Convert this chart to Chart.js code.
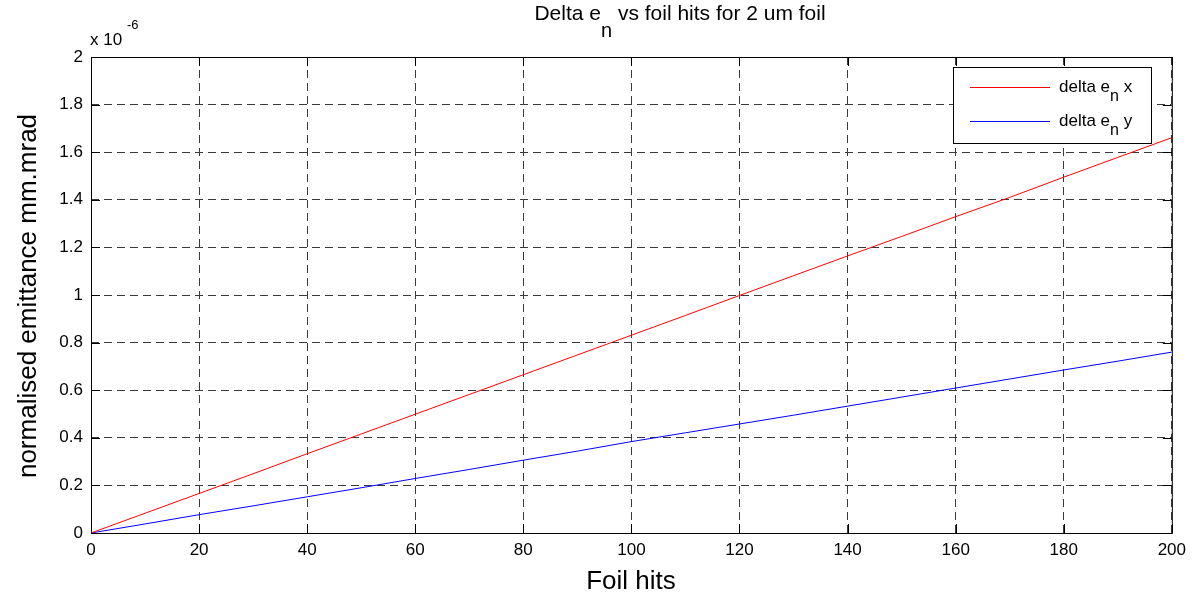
<!DOCTYPE html>
<html>
<head>
<meta charset="utf-8">
<script src="https://cdn.jsdelivr.net/npm/chart.js@4/dist/chart.umd.min.js"></script>
<style>
  html, body { margin: 0; padding: 0; background: #fff; }
  #wrap { width: 1193px; height: 593px; }
</style>
</head>
<body>
<div id="wrap"><canvas id="c" width="1193" height="593"></canvas></div>
<script>
// foil hits and emittance growth (units of 1e-6 mm.mrad)
const hits = [0, 10, 20, 30, 40, 50, 60, 70, 80, 90, 100, 110, 120, 130, 140, 150, 160, 170, 180, 190, 200];
const deltaX = [0, 0.083, 0.166, 0.249, 0.333, 0.416, 0.499, 0.582, 0.665, 0.748, 0.831, 0.914, 0.998, 1.081, 1.164, 1.246, 1.329, 1.41, 1.495, 1.578, 1.661];
const deltaY = [0, 0.038, 0.077, 0.114, 0.152, 0.19, 0.229, 0.267, 0.306, 0.344, 0.384, 0.421, 0.458, 0.495, 0.533, 0.571, 0.609, 0.647, 0.685, 0.722, 0.76];
const xTicks = [0, 20, 40, 60, 80, 100, 120, 140, 160, 180, 200];
const yTicks = [0, 0.2, 0.4, 0.6, 0.8, 1, 1.2, 1.4, 1.6, 1.8, 2];
const seriesColors = ['#ff0000', '#0000ff'];

const FONT = '"Liberation Sans", Arial, sans-serif';

const pts = ys => hits.map((h, i) => ({x: h, y: ys[i]}));

// text with subscript pieces: parts = [[text, isSub], ...]
function drawRich(ctx, parts, x, y, size, subSize, drop, align) {
  let w = 0;
  parts.forEach(([t, sub]) => {
    ctx.font = (sub ? subSize : size) + 'px ' + FONT;
    w += ctx.measureText(t).width;
  });
  let cx = align === 'center' ? x - w / 2 : x;
  ctx.textAlign = 'left';
  ctx.textBaseline = 'alphabetic';
  parts.forEach(([t, sub]) => {
    ctx.font = (sub ? subSize : size) + 'px ' + FONT;
    ctx.fillText(t, cx, sub ? y + drop : y);
    cx += ctx.measureText(t).width;
  });
}

const decor = {
  id: 'decor',
  afterDatasetsDraw(chart) {
    const {ctx, chartArea: a, scales} = chart;
    ctx.save();
    ctx.fillStyle = '#000';
    ctx.strokeStyle = '#000';
    ctx.lineWidth = 1;
    ctx.setLineDash([]);
    ctx.strokeRect(a.left + 0.5, a.top + 0.5, a.right - a.left, a.bottom - a.top);

    // inward tick marks on all four sides
    ctx.beginPath();
    xTicks.forEach(v => {
      const px = Math.round(scales.x.getPixelForValue(v)) + 0.5;
      ctx.moveTo(px, a.bottom); ctx.lineTo(px, a.bottom - 9);
      ctx.moveTo(px, a.top); ctx.lineTo(px, a.top + 9);
    });
    yTicks.forEach(v => {
      const py = Math.round(scales.y.getPixelForValue(v)) + 0.5;
      ctx.moveTo(a.left, py); ctx.lineTo(a.left + 9, py);
      ctx.moveTo(a.right, py); ctx.lineTo(a.right - 9, py);
    });
    ctx.stroke();

    // title
    drawRich(ctx, [['Delta e', false], ['n', true], [' vs foil hits for 2 um foil', false]], 680, 20, 21, 20, 17, 'center');

    // exponent
    ctx.font = '17px ' + FONT;
    ctx.textAlign = 'left';
    ctx.fillText('x 10', 90, 45);
    ctx.font = '13px ' + FONT;
    ctx.fillText('-6', 127, 29);

    // axis titles
    ctx.font = '26px ' + FONT;
    ctx.textAlign = 'center';
    ctx.fillText('Foil hits', 631, 589);
    ctx.save();
    ctx.translate(36, 296);
    ctx.rotate(-Math.PI / 2);
    ctx.fillText('normalised emittance mm.mrad', 0, 0);
    ctx.restore();

    // legend
    const lx = 953, ly = 67, lw = 198, lh = 76;
    ctx.fillStyle = '#fff';
    ctx.fillRect(lx, ly, lw, lh);
    ctx.strokeStyle = '#000';
    ctx.strokeRect(lx + 0.5, ly + 0.5, lw, lh);
    const rows = [['x', 87], ['y', 121]];
    rows.forEach(([s, yy], i) => {
      ctx.beginPath();
      ctx.moveTo(970, yy + 0.5);
      ctx.lineTo(1050, yy + 0.5);
      ctx.strokeStyle = seriesColors[i];
      ctx.lineWidth = 1;
      ctx.stroke();
      ctx.fillStyle = '#000';
      drawRich(ctx, [['delta e', false], ['n', true], [' ' + s, false]], 1059, yy + 5, 17, 16, 9, 'left');
    });
    ctx.restore();
  }
};

new Chart(document.getElementById('c'), {
  type: 'line',
  data: {
    datasets: [
      {label: 'delta en x', data: pts(deltaX), borderColor: seriesColors[0], borderWidth: 1, pointRadius: 0, tension: 0},
      {label: 'delta en y', data: pts(deltaY), borderColor: seriesColors[1], borderWidth: 1, pointRadius: 0, tension: 0}
    ]
  },
  options: {
    responsive: false,
    animation: false,
    layout: {padding: {top: 57, right: 18, left: 0, bottom: 0}},
    plugins: {legend: {display: false}, title: {display: false}, tooltip: {enabled: false}},
    scales: {
      x: {
        type: 'linear', min: 0, max: 200,
        afterBuildTicks: s => { s.ticks = xTicks.map(v => ({value: v})); },
        afterFit: s => { s.height = 60; },
        grid: {color: '#3a3a3a', lineWidth: 1, drawTicks: false},
        border: {display: false, dash: [8, 5]},
        ticks: {color: '#000', font: {family: FONT, size: 17}, padding: 7, maxRotation: 0}
      },
      y: {
        min: 0, max: 2,
        afterBuildTicks: s => { s.ticks = yTicks.map(v => ({value: v})); },
        afterFit: s => { s.width = 91; },
        grid: {color: '#3a3a3a', lineWidth: 1, drawTicks: false},
        border: {display: false, dash: [8, 5]},
        ticks: {color: '#000', font: {family: FONT, size: 17}, padding: 8, callback: v => String(+v.toFixed(1))}
      }
    }
  },
  plugins: [decor]
});
</script>
</body>
</html>
